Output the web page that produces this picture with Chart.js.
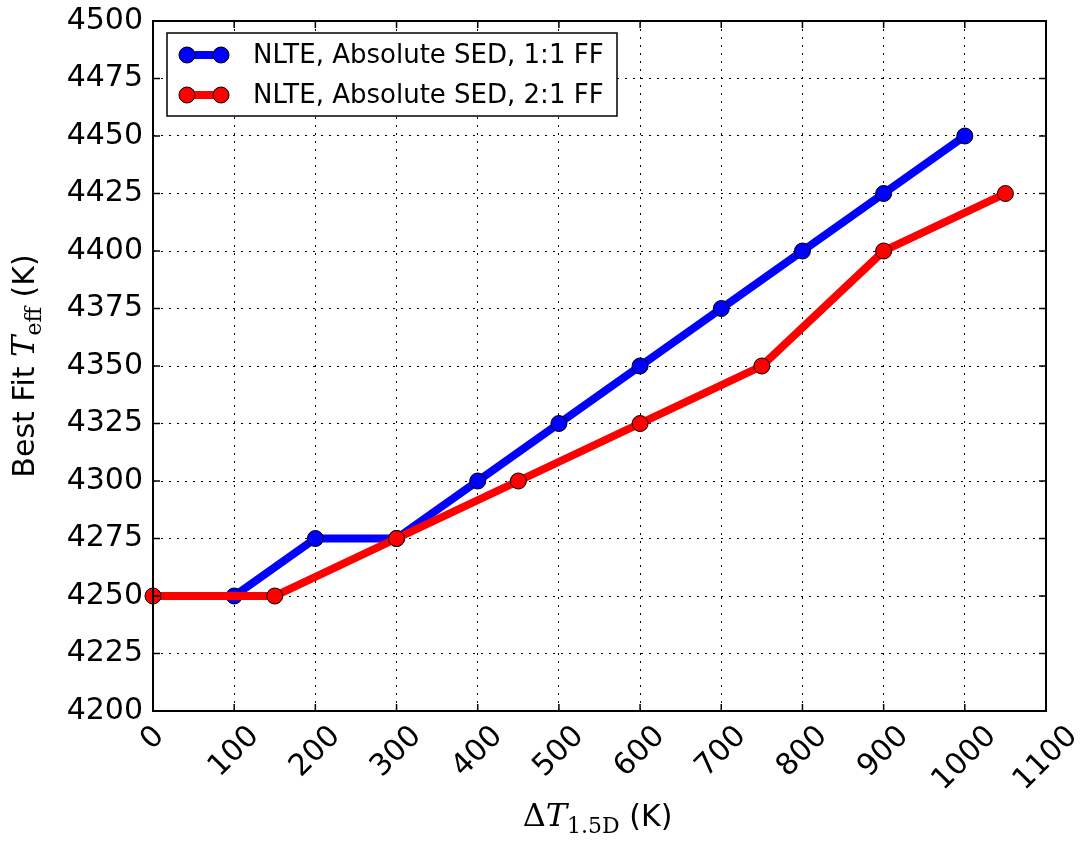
<!DOCTYPE html>
<html>
<head>
<meta charset="utf-8">
<script src="https://cdn.jsdelivr.net/npm/chart.js@4.4.1/dist/chart.umd.min.js"></script>
<style>
  body { margin: 0; background: #fff; }
  #wrap { width: 1091px; height: 846px; }
</style>
</head>
<body>
<div id="wrap"><canvas id="chart" width="1091" height="846"></canvas></div>
<script>
// data
const blueX = [100, 200, 300, 400, 500, 600, 700, 800, 900, 1000];
const blueY = [4250, 4275, 4275, 4300, 4325, 4350, 4375, 4400, 4425, 4450];
const redX = [0, 150, 300, 450, 600, 750, 900, 1050];
const redY = [4250, 4250, 4275, 4300, 4325, 4350, 4400, 4425];
const seriesLabels = ["NLTE, Absolute SED, 1:1 FF", "NLTE, Absolute SED, 2:1 FF"];
const seriesColors = ["#0000ff", "#ff0000"];

const SANS = "'DejaVu Sans', sans-serif";
const SERIF = "'DejaVu Serif', 'Liberation Serif', serif";

function toPoints(xs, ys) {
  return xs.map((x, i) => ({ x: x, y: ys[i] }));
}

// draw a row of text pieces (mixed fonts / subscripts) centred on x
function drawRuns(ctx, runs, cx, baseY) {
  let total = 0;
  runs.forEach((r) => {
    ctx.font = r.font;
    r.w = ctx.measureText(r.text).width;
    total += r.w;
  });
  let x = cx - total / 2;
  ctx.textAlign = "left";
  ctx.textBaseline = "alphabetic";
  runs.forEach((r) => {
    ctx.font = r.font;
    ctx.fillText(r.text, x, baseY + (r.dy || 0));
    x += r.w;
  });
}

// keep the plot frame where the reference has it
function noScalePadding(s) {
  s.paddingTop = 0;
  s.paddingBottom = 0;
  s.paddingLeft = 0;
  s.paddingRight = 0;
}

const decorPlugin = {
  id: "decor",
  beforeDraw(chart) {
    const ctx = chart.ctx;
    ctx.save();
    ctx.fillStyle = "#fff";
    ctx.fillRect(0, 0, chart.width, chart.height);
    ctx.restore();
  },
  afterDatasetsDraw(chart) {
    const ctx = chart.ctx;
    const a = chart.chartArea;
    const xs = chart.scales.x;
    const ys = chart.scales.y;
    ctx.save();

    // inward ticks on all four sides
    ctx.strokeStyle = "#000";
    ctx.lineWidth = 1.5;
    const tl = 7;
    xs.ticks.forEach((t) => {
      const px = xs.getPixelForValue(t.value);
      ctx.beginPath();
      ctx.moveTo(px, a.bottom); ctx.lineTo(px, a.bottom - tl);
      ctx.moveTo(px, a.top); ctx.lineTo(px, a.top + tl);
      ctx.stroke();
    });
    ys.ticks.forEach((t) => {
      const py = ys.getPixelForValue(t.value);
      ctx.beginPath();
      ctx.moveTo(a.left, py); ctx.lineTo(a.left + tl, py);
      ctx.moveTo(a.right, py); ctx.lineTo(a.right - tl, py);
      ctx.stroke();
    });

    // frame
    ctx.lineWidth = 2;
    ctx.strokeRect(a.left, a.top, a.right - a.left, a.bottom - a.top);

    // rotated x tick labels, centred under each tick
    ctx.fillStyle = "#000";
    ctx.font = "30px " + SANS;
    xs.ticks.forEach((t) => {
      const px = xs.getPixelForValue(t.value);
      const label = String(t.value);
      const w = ctx.measureText(label).width;
      const cy = a.bottom + 13 + (w + 22) * 0.7071 / 2;
      ctx.save();
      ctx.translate(px, cy);
      ctx.rotate(-Math.PI / 4);
      ctx.textAlign = "center";
      ctx.textBaseline = "middle";
      ctx.fillText(label, 0, 0);
      ctx.restore();
    });

    // x axis title
    drawRuns(ctx, [
      { text: "\u0394", font: "32px " + SERIF },
      { text: "T", font: "italic 32px " + SERIF },
      { text: "1.5D", font: "22px " + SERIF, dy: 7 },
      { text: " (K)", font: "30px " + SANS }
    ], (a.left + a.right) / 2 - 2, 826);

    // y axis title
    ctx.save();
    ctx.translate(34, (a.top + a.bottom) / 2);
    ctx.rotate(-Math.PI / 2);
    drawRuns(ctx, [
      { text: "Best Fit ", font: "30px " + SANS },
      { text: "T", font: "italic 32px " + SERIF },
      { text: "eff", font: "22px " + SERIF, dy: 7 },
      { text: " (K)", font: "30px " + SANS }
    ], 0, 0);
    ctx.restore();

    // legend
    const lx = 167, ly = 33, lw = 450, lh = 83;
    ctx.fillStyle = "#fff";
    ctx.fillRect(lx, ly, lw, lh);
    ctx.lineWidth = 1.5;
    ctx.strokeStyle = "#000";
    ctx.strokeRect(lx, ly, lw, lh);
    chart.data.datasets.forEach((ds, i) => {
      const yy = 55 + i * 40;
      ctx.strokeStyle = ds.borderColor;
      ctx.lineWidth = 8;
      ctx.beginPath();
      ctx.moveTo(187, yy); ctx.lineTo(221, yy);
      ctx.stroke();
      [187, 221].forEach((mx) => {
        ctx.beginPath();
        ctx.arc(mx, yy, 8, 0, Math.PI * 2);
        ctx.fillStyle = ds.pointBackgroundColor;
        ctx.fill();
        ctx.lineWidth = 1;
        ctx.strokeStyle = "#000";
        ctx.stroke();
      });
      ctx.fillStyle = "#000";
      ctx.font = "26px " + SANS;
      ctx.textAlign = "left";
      ctx.textBaseline = "middle";
      ctx.fillText(ds.label, 253, yy + 1);
    });

    ctx.restore();
  }
};

function makeSet(i, xs, ys, order) {
  return {
    label: seriesLabels[i],
    data: toPoints(xs, ys),
    borderColor: seriesColors[i],
    backgroundColor: seriesColors[i],
    pointBackgroundColor: seriesColors[i],
    pointBorderColor: "#000",
    pointBorderWidth: 1,
    pointRadius: 8,
    borderWidth: 8,
    tension: 0,
    clip: false,
    order: order
  };
}

new Chart(document.getElementById("chart").getContext("2d"), {
  type: "line",
  data: {
    datasets: [makeSet(0, blueX, blueY, 1), makeSet(1, redX, redY, 0)]
  },
  plugins: [decorPlugin],
  options: {
    responsive: false,
    animation: false,
    events: [],
    layout: { autoPadding: false, padding: { left: 0, top: 21, right: 45, bottom: 0 } },
    plugins: { legend: { display: false }, tooltip: { enabled: false } },
    scales: {
      x: {
        type: "linear",
        min: 0,
        max: 1100,
        afterFit: (s) => { s.height = 846 - 711; noScalePadding(s); },
        ticks: { display: false, stepSize: 100 },
        grid: { color: "#000", lineWidth: 1, drawTicks: false },
        border: { display: false, dash: [2, 6] }
      },
      y: {
        type: "linear",
        min: 4200,
        max: 4500,
        afterFit: (s) => { s.width = 153; noScalePadding(s); },
        ticks: {
          stepSize: 25,
          autoSkip: false,
          padding: 10,
          color: "#000",
          font: { family: "'DejaVu Sans'", size: 30 },
          callback: (v) => String(v)
        },
        grid: { color: "#000", lineWidth: 1, drawTicks: false },
        border: { display: false, dash: [2, 6] }
      }
    }
  }
});
</script>
</body>
</html>
